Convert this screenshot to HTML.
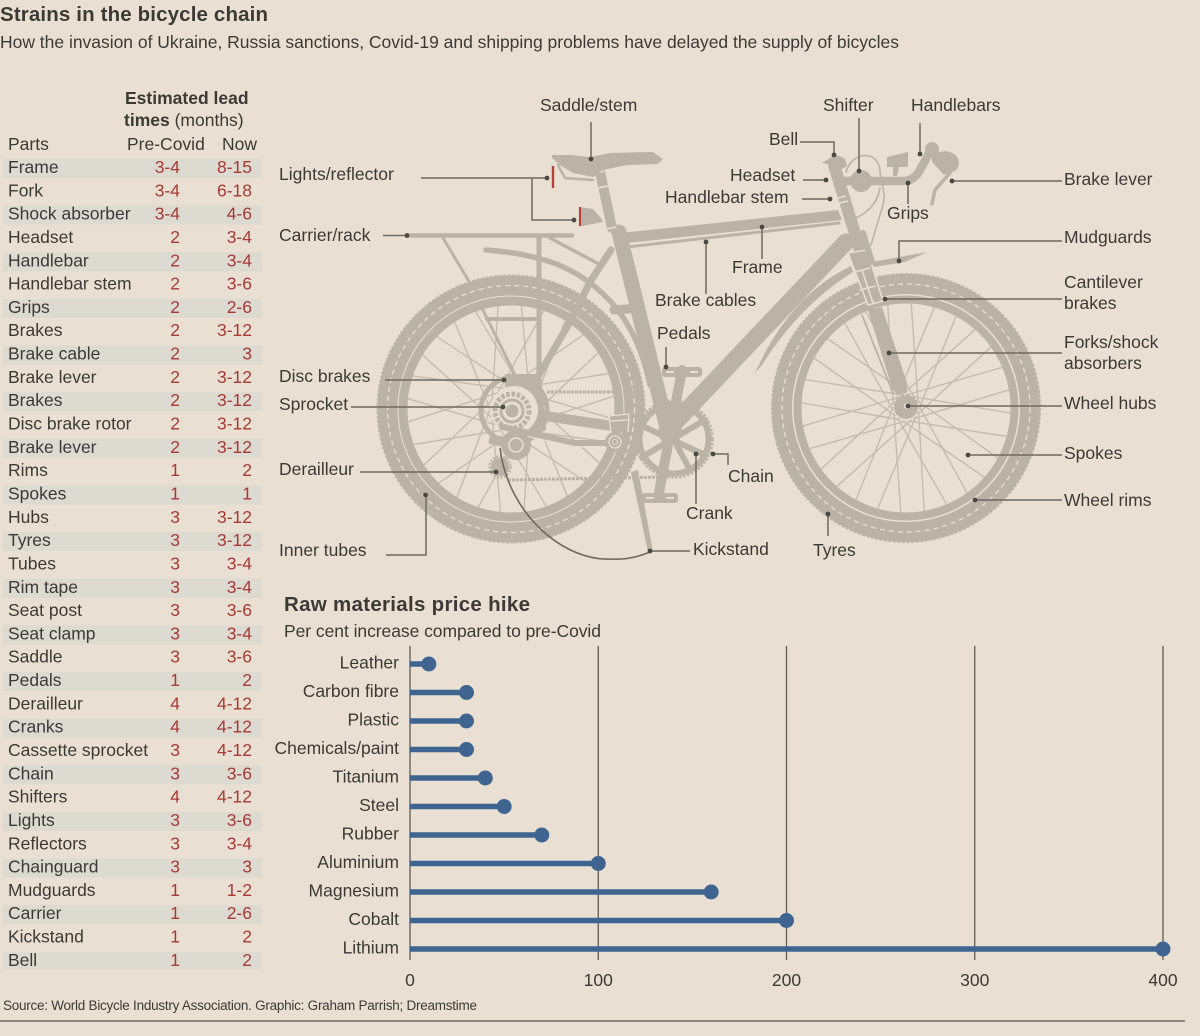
<!DOCTYPE html>
<html lang="en">
<head>
<meta charset="utf-8">
<title>Strains in the bicycle chain</title>
<style>
html,body{margin:0;padding:0;background:#e9e0d3;width:1200px;height:1036px;overflow:hidden}
svg{display:block}
text{font-family:"Liberation Sans",sans-serif;font-size:17.5px;fill:#3d3936}
.b{font-weight:700}
.v{fill:#a83a32;text-anchor:end}
.e{text-anchor:end}
.st{fill:#dddad1}
.bk{fill:#bbb3a7}
.ln{fill:none;stroke:#bbb3a7;stroke-linecap:round}
.cr{fill:none;stroke:#e9e0d3}
.ld{fill:none;stroke:#6f6960;stroke-width:1.5}
.dt{fill:#4c4843}
</style>
</head>
<body>
<svg id="page" xmlns="http://www.w3.org/2000/svg" width="1200" height="1036" viewBox="0 0 1200 1036">
<rect width="1200" height="1036" fill="#e9e0d3"/>
<text class="b" x="0" y="21" style="font-size:20.5px" textLength="268">Strains in the bicycle chain</text>
<text x="0" y="48" textLength="899">How the invasion of Ukraine, Russia sanctions, Covid-19 and shipping problems have delayed the supply of bicycles</text>

<g>
<text class="b" x="125" y="104">Estimated lead</text>
<text x="124" y="126"><tspan class="b">times</tspan> (months)</text>
<text x="8" y="150">Parts</text>
<text x="127" y="150">Pre-Covid</text>
<text x="222" y="150">Now</text>
<g>
<rect class="st" x="3" y="159" width="259" height="19"/><rect class="st" x="3" y="205.6" width="259" height="19"/><rect class="st" x="3" y="252.3" width="259" height="19"/><rect class="st" x="3" y="298.9" width="259" height="19"/><rect class="st" x="3" y="345.6" width="259" height="19"/><rect class="st" x="3" y="392.2" width="259" height="19"/><rect class="st" x="3" y="438.8" width="259" height="19"/><rect class="st" x="3" y="485.5" width="259" height="19"/><rect class="st" x="3" y="532.1" width="259" height="19"/><rect class="st" x="3" y="578.8" width="259" height="19"/><rect class="st" x="3" y="625.4" width="259" height="19"/><rect class="st" x="3" y="672" width="259" height="19"/><rect class="st" x="3" y="718.7" width="259" height="19"/><rect class="st" x="3" y="765.3" width="259" height="19"/><rect class="st" x="3" y="812" width="259" height="19"/><rect class="st" x="3" y="858.6" width="259" height="19"/><rect class="st" x="3" y="905.2" width="259" height="19"/><rect class="st" x="3" y="951.9" width="259" height="17"/>
</g>
<g><text x="8" y="173">Frame</text><text class="v" x="180" y="173">3-4</text><text class="v" x="252" y="173">8-15</text></g>
<g><text x="8" y="196.3">Fork</text><text class="v" x="180" y="196.3">3-4</text><text class="v" x="252" y="196.3">6-18</text></g>
<g><text x="8" y="219.6">Shock absorber</text><text class="v" x="180" y="219.6">3-4</text><text class="v" x="252" y="219.6">4-6</text></g>
<g><text x="8" y="243">Headset</text><text class="v" x="180" y="243">2</text><text class="v" x="252" y="243">3-4</text></g>
<g><text x="8" y="266.3">Handlebar</text><text class="v" x="180" y="266.3">2</text><text class="v" x="252" y="266.3">3-4</text></g>
<g><text x="8" y="289.6">Handlebar stem</text><text class="v" x="180" y="289.6">2</text><text class="v" x="252" y="289.6">3-6</text></g>
<g><text x="8" y="312.9">Grips</text><text class="v" x="180" y="312.9">2</text><text class="v" x="252" y="312.9">2-6</text></g>
<g><text x="8" y="336.2">Brakes</text><text class="v" x="180" y="336.2">2</text><text class="v" x="252" y="336.2">3-12</text></g>
<g><text x="8" y="359.6">Brake cable</text><text class="v" x="180" y="359.6">2</text><text class="v" x="252" y="359.6">3</text></g>
<g><text x="8" y="382.9">Brake lever</text><text class="v" x="180" y="382.9">2</text><text class="v" x="252" y="382.9">3-12</text></g>
<g><text x="8" y="406.2">Brakes</text><text class="v" x="180" y="406.2">2</text><text class="v" x="252" y="406.2">3-12</text></g>
<g><text x="8" y="429.5">Disc brake rotor</text><text class="v" x="180" y="429.5">2</text><text class="v" x="252" y="429.5">3-12</text></g>
<g><text x="8" y="452.8">Brake lever</text><text class="v" x="180" y="452.8">2</text><text class="v" x="252" y="452.8">3-12</text></g>
<g><text x="8" y="476.2">Rims</text><text class="v" x="180" y="476.2">1</text><text class="v" x="252" y="476.2">2</text></g>
<g><text x="8" y="499.5">Spokes</text><text class="v" x="180" y="499.5">1</text><text class="v" x="252" y="499.5">1</text></g>
<g><text x="8" y="522.8">Hubs</text><text class="v" x="180" y="522.8">3</text><text class="v" x="252" y="522.8">3-12</text></g>
<g><text x="8" y="546.1">Tyres</text><text class="v" x="180" y="546.1">3</text><text class="v" x="252" y="546.1">3-12</text></g>
<g><text x="8" y="569.4">Tubes</text><text class="v" x="180" y="569.4">3</text><text class="v" x="252" y="569.4">3-4</text></g>
<g><text x="8" y="592.8">Rim tape</text><text class="v" x="180" y="592.8">3</text><text class="v" x="252" y="592.8">3-4</text></g>
<g><text x="8" y="616.1">Seat post</text><text class="v" x="180" y="616.1">3</text><text class="v" x="252" y="616.1">3-6</text></g>
<g><text x="8" y="639.4">Seat clamp</text><text class="v" x="180" y="639.4">3</text><text class="v" x="252" y="639.4">3-4</text></g>
<g><text x="8" y="662.7">Saddle</text><text class="v" x="180" y="662.7">3</text><text class="v" x="252" y="662.7">3-6</text></g>
<g><text x="8" y="686">Pedals</text><text class="v" x="180" y="686">1</text><text class="v" x="252" y="686">2</text></g>
<g><text x="8" y="709.4">Derailleur</text><text class="v" x="180" y="709.4">4</text><text class="v" x="252" y="709.4">4-12</text></g>
<g><text x="8" y="732.7">Cranks</text><text class="v" x="180" y="732.7">4</text><text class="v" x="252" y="732.7">4-12</text></g>
<g><text x="8" y="756">Cassette sprocket</text><text class="v" x="180" y="756">3</text><text class="v" x="252" y="756">4-12</text></g>
<g><text x="8" y="779.3">Chain</text><text class="v" x="180" y="779.3">3</text><text class="v" x="252" y="779.3">3-6</text></g>
<g><text x="8" y="802.6">Shifters</text><text class="v" x="180" y="802.6">4</text><text class="v" x="252" y="802.6">4-12</text></g>
<g><text x="8" y="826">Lights</text><text class="v" x="180" y="826">3</text><text class="v" x="252" y="826">3-6</text></g>
<g><text x="8" y="849.3">Reflectors</text><text class="v" x="180" y="849.3">3</text><text class="v" x="252" y="849.3">3-4</text></g>
<g><text x="8" y="872.6">Chainguard</text><text class="v" x="180" y="872.6">3</text><text class="v" x="252" y="872.6">3</text></g>
<g><text x="8" y="895.9">Mudguards</text><text class="v" x="180" y="895.9">1</text><text class="v" x="252" y="895.9">1-2</text></g>
<g><text x="8" y="919.2">Carrier</text><text class="v" x="180" y="919.2">1</text><text class="v" x="252" y="919.2">2-6</text></g>
<g><text x="8" y="942.6">Kickstand</text><text class="v" x="180" y="942.6">1</text><text class="v" x="252" y="942.6">2</text></g>
<g><text x="8" y="965.9">Bell</text><text class="v" x="180" y="965.9">1</text><text class="v" x="252" y="965.9">2</text></g>
</g>

<g>
<g id="rear-spokes" stroke="#c4bcb0" stroke-width="1.4"></g>
<g id="front-spokes" stroke="#c4bcb0" stroke-width="1.4"></g>

<g fill="none">
<circle cx="511" cy="409" r="123.500" stroke="#bbb3a7" stroke-width="20"/>
<circle cx="511" cy="409" r="133.500" stroke="#bbb3a7" stroke-width="2" stroke-dasharray="3 1.5"/>
<circle cx="511" cy="409" r="123.500" stroke="#e9e0d3" stroke-width="1.3" stroke-dasharray="5 4"/>
<circle cx="511" cy="409" r="108" stroke="#bbb3a7" stroke-width="9"/>
</g>
<g fill="none">
<circle cx="906" cy="408" r="124" stroke="#bbb3a7" stroke-width="20"/>
<circle cx="906" cy="408" r="134" stroke="#bbb3a7" stroke-width="2" stroke-dasharray="3 1.5"/>
<circle cx="906" cy="408" r="124" stroke="#e9e0d3" stroke-width="1.3" stroke-dasharray="5 4"/>
<circle cx="906" cy="408" r="108.500" stroke="#bbb3a7" stroke-width="8"/>
<circle cx="906" cy="407" r="12" fill="#bbb3a7"/>
<circle cx="907" cy="406" r="3" fill="#e9e0d3"/>
</g>

<g>
<path class="ln" stroke-width="4.5" d="M407 235.5H572"/>
<path class="ln" stroke-width="3" d="M443 238L470 283M483 310L515 375"/>
<path class="ln" stroke-width="5" stroke-linecap="butt" d="M539 238V408"/>
<path class="ln" stroke-width="3.5" d="M550 238L597 263"/>
<path class="ln" stroke-width="4" d="M487 319H537"/>
</g>
<g>
<path class="ln" stroke-width="5.5" d="M486 250Q515 252 537 258Q580 268 612 303Q640 335 650 385"/>
<path class="ln" stroke-width="9" d="M614 310L640 308"/>
</g>
<g>
<path class="bk" d="M621 233L838 210L842 220L627 243Z"/>
<path class="ln" stroke-width="3" stroke-linecap="butt" d="M627 247L839 223"/>
<path class="ln" stroke-width="15" stroke-linecap="butt" d="M619 232L668 432"/>
<path class="ln" stroke-width="17" stroke-linecap="butt" d="M846 242L668 430"/>
<path class="ln" stroke-width="12" stroke-linecap="butt" d="M834 165L860 250"/>
<path class="ln" stroke-width="7" stroke-linecap="butt" d="M611 250L590 282L570 322L533 385"/>
<path class="ln" stroke-width="10" stroke-linecap="butt" d="M545 416L612 426"/>
<path class="cr" stroke-width="1.5" d="M833 199L846 196M835 204L848 201"/>
</g>
<g>
<path class="ln" stroke-width="10" stroke-linecap="butt" d="M600 172L612 228"/>
<path class="cr" stroke-width="1.6" d="M596 173L604 171M598 188L608 186M606 229L616 227"/>
</g>
<g>
<path class="bk" d="M552 155L570 155L590 157L610 153L653 152L663 159L658 164L627 165L603 170L593 177L573 173L560 165L552 158Z"/>
<path class="ln" stroke-width="2.5" d="M558 165L565 178L593 180"/>
</g>
<g>
<path class="bk" d="M579 207L593 209L601 218L603 222L582 226L579 226Z"/>
<path d="M580 207V226" stroke="#b5423a" stroke-width="2.2" fill="none"/>
</g>
<path d="M553 166V188" stroke="#b5423a" stroke-width="2.4" fill="none"/>

<g>
<path class="bk" d="M755 373Q790 295 851 266L853 272Q800 305 762 365Z"/>
<path class="bk" d="M872 262L927 252L905 262L874 267Z"/>
</g>
<g>
<path class="bk" d="M868 310L882 307L907 383L907 392L897 395L892 388Z"/>
<path class="ln" stroke-width="1.8" d="M862 315L893 393"/>
<path class="bk" d="M848 253L867 250L883 301L868 305Z"/>
<path class="cr" stroke-width="1.6" d="M848 253L867 250L883 301L868 305ZM854 272L870 268M859 290L876 286M862 270L873 303"/>
<path class="ln" stroke-width="6" stroke-linecap="butt" d="M863 233L872 262"/>
</g>
<g>
<path class="ln" stroke-width="8.5" d="M842 181H903Q915 181 921 168L931 150"/>
<circle cx="861" cy="181" r="11" class="bk"/>
<circle cx="932" cy="149" r="7" class="bk"/>
<path class="bk" d="M932 153L946 151Q958 153 959 163Q958 172 950 172L944 175L932 162Z"/>
<path class="ln" stroke-width="3.5" d="M950 173L935 190L932 204"/>
<path class="bk" d="M887 157L908 152V167H899L897 176H893L893 167H887Z"/>
<path class="bk" d="M822 163L830 158Q838 153 845 159L847 166L840 170L843 181L835 182L832 165Z"/>
<path class="ln" stroke-width="1.6" d="M846 172C852 150 880 150 880 172C882 185 886 195 883 205L871 245"/>
<path class="ln" stroke-width="1.6" d="M848 221Q876 212 880 188"/>
</g>

<g>
<circle cx="514" cy="410" r="33" fill="none" stroke="#bbb3a7" stroke-width="5"/>
<path class="bk" d="M505 374L541 374L546 430L538 434L520 430L505 395Z"/>
<circle cx="514" cy="410" r="24" fill="#e9e0d3"/>
</g>
<g fill="none">
<circle cx="512" cy="411" r="17" stroke="#bbb3a7" stroke-width="5" stroke-dasharray="3.5 1.8"/>
<circle cx="512" cy="411" r="11" stroke="#bbb3a7" stroke-width="3"/>
<circle cx="512" cy="411" r="6.5" fill="#bbb3a7"/>
</g>
<g>
<path class="ln" stroke-width="6" d="M502 427L575 443L610 443"/>
<path class="cr" stroke-width="1.3" d="M503 431L575 447L605 447"/>
<rect class="bk" x="489" y="436" width="23" height="10" rx="2" transform="rotate(12 500 441)"/>
<circle cx="516" cy="445" r="15" class="bk"/>
<circle cx="516" cy="445" r="7" fill="none" stroke="#e9e0d3" stroke-width="1.5"/>
<circle cx="500" cy="467" r="9" class="bk"/>
<circle cx="500" cy="467" r="10.5" fill="none" stroke="#bbb3a7" stroke-width="2.5" stroke-dasharray="2 1.5"/>
<circle cx="615" cy="442" r="10" class="bk"/>
<circle cx="615" cy="442" r="6" fill="none" stroke="#e9e0d3" stroke-width="1.3"/>
<circle cx="615" cy="442" r="2.5" fill="none" stroke="#e9e0d3" stroke-width="1"/>
<path class="bk" d="M610 415L628 414L627 432L611 433Z"/>
<path class="cr" stroke-width="1.3" d="M609 416L629 414M610 421L628 420M611 433L609 416M628 432L629 414"/>
</g>
<g fill="none">
<path stroke="#bbb3a7" stroke-width="3" stroke-dasharray="3 1" d="M508 480L664 477"/>
<path stroke="#bbb3a7" stroke-width="3" stroke-dasharray="3 1" d="M547 392L640 392"/>
</g>
<g>
<circle cx="674" cy="439" r="34.500" fill="none" stroke="#bbb3a7" stroke-width="6"/>
<circle cx="674" cy="439" r="38" fill="none" stroke="#bbb3a7" stroke-width="3.5" stroke-dasharray="2.5 1.5"/>
<path class="ln" stroke-width="6" stroke-linecap="butt" d="M640 425L705 455M705 420L642 457M657 408L690 470"/>
<circle cx="670" cy="432" r="12" class="bk"/>
<path class="ln" stroke-width="10" d="M682 370L658 498"/>
<rect class="bk" x="662" y="367" width="40" height="10" rx="3"/>
<rect class="bk" x="642" y="493" width="36" height="10" rx="3"/>
<path class="cr" stroke-width="2" d="M666 372H674M690 372H698M646 498H654M666 498H674"/>
</g>
<path class="bk" d="M631 472L638 470L653 552L648 552Z"/>
<path fill="none" stroke="#6f6960" stroke-width="1.6" d="M500 448C508 515 565 562 612 559C628 560 640 556 650 552"/>
</g>

<g>
<path class="ld" d="M591 122V159"/><circle class="dt" cx="591" cy="159" r="2.4"/>
<path class="ld" d="M421 178H547M532 178V220H574"/><circle class="dt" cx="547" cy="178" r="2.4"/><circle class="dt" cx="574" cy="220" r="2.4"/>
<path class="ld" d="M383 235.5H407"/><circle class="dt" cx="407" cy="235.5" r="2.4"/>
<path class="ld" d="M706 242V294"/><circle class="dt" cx="706" cy="242" r="2.4"/>
<path class="ld" d="M762 227V259"/><circle class="dt" cx="762" cy="227" r="2.4"/>
<path class="ld" d="M666 347V367"/><circle class="dt" cx="666" cy="367" r="2.4"/>
<path class="ld" d="M385 380H504"/><circle class="dt" cx="504" cy="380" r="2.4"/>
<path class="ld" d="M351 407H503"/><circle class="dt" cx="503" cy="407" r="2.4"/>
<path class="ld" d="M360 472H496"/><circle class="dt" cx="496" cy="472" r="2.4"/>
<path class="ld" d="M386 555H426V495"/><circle class="dt" cx="425.5" cy="495" r="2.4"/>
<path class="ld" d="M696 454V504"/><circle class="dt" cx="696" cy="454" r="2.4"/>
<path class="ld" d="M713 454H728V465"/><circle class="dt" cx="713" cy="454" r="2.4"/>
<path class="ld" d="M650 551H690"/><circle class="dt" cx="650" cy="551" r="2.4"/>
<path class="ld" d="M828 514V536"/><circle class="dt" cx="828" cy="514" r="2.4"/>
<path class="ld" d="M975 500H1062"/><circle class="dt" cx="975" cy="500" r="2.4"/>
<path class="ld" d="M968 455H1062"/><circle class="dt" cx="968" cy="455" r="2.4"/>
<path class="ld" d="M908 406H1062"/><circle class="dt" cx="908" cy="406" r="2.4"/>
<path class="ld" d="M889 353H1062"/><circle class="dt" cx="889" cy="353" r="2.4"/>
<path class="ld" d="M885 299H1062"/><circle class="dt" cx="885" cy="299" r="2.4"/>
<path class="ld" d="M899 261V241H1062"/><circle class="dt" cx="899" cy="261" r="2.4"/>
<path class="ld" d="M952 181H1062"/><circle class="dt" cx="952" cy="181" r="2.4"/>
<path class="ld" d="M908 183V204"/><circle class="dt" cx="908" cy="183" r="2.4"/>
<path class="ld" d="M920 123V154"/><circle class="dt" cx="920" cy="154" r="2.4"/>
<path class="ld" d="M859 118V171"/><circle class="dt" cx="859" cy="171" r="2.4"/>
<path class="ld" d="M800 142H834V155"/><circle class="dt" cx="834" cy="155" r="2.4"/>
<path class="ld" d="M803 180H826"/><circle class="dt" cx="826" cy="180" r="2.4"/>
<path class="ld" d="M802 199H830"/><circle class="dt" cx="830" cy="199" r="2.4"/>
</g>

<g>
<text x="540" y="111">Saddle/stem</text>
<text x="823" y="111">Shifter</text>
<text x="911" y="111">Handlebars</text>
<text x="769" y="145">Bell</text>
<text x="730" y="181">Headset</text>
<text x="665" y="203">Handlebar stem</text>
<text x="887" y="219">Grips</text>
<text x="279" y="180">Lights/reflector</text>
<text x="279" y="241">Carrier/rack</text>
<text x="732" y="273">Frame</text>
<text x="655" y="306">Brake cables</text>
<text x="657" y="339">Pedals</text>
<text x="279" y="382">Disc brakes</text>
<text x="279" y="410">Sprocket</text>
<text x="279" y="475">Derailleur</text>
<text x="279" y="556">Inner tubes</text>
<text x="728" y="482">Chain</text>
<text x="686" y="519">Crank</text>
<text x="693" y="555">Kickstand</text>
<text x="813" y="556">Tyres</text>
<text x="1064" y="185">Brake lever</text>
<text x="1064" y="243">Mudguards</text>
<text x="1064" y="288">Cantilever<tspan x="1064" dy="21">brakes</tspan></text>
<text x="1064" y="348">Forks/shock<tspan x="1064" dy="21">absorbers</tspan></text>
<text x="1064" y="409">Wheel hubs</text>
<text x="1064" y="459">Spokes</text>
<text x="1064" y="506">Wheel rims</text>
</g>

<g>
<text class="b" x="284" y="611" style="font-size:20.5px" textLength="246">Raw materials price hike</text>
<text x="284" y="637" textLength="317">Per cent increase compared to pre-Covid</text>
<g id="grid"></g>
<g id="ticks"></g>
<g id="cats"></g>
<g id="marks"></g>
</g>

<text x="3" y="1010" style="font-size:13.5px" textLength="474">Source: World Bicycle Industry Association. Graphic: Graham Parrish; Dreamstime</text>
<line x1="0" x2="1185" y1="1021" y2="1021" stroke="#5a5550" stroke-width="1.2"/>
</svg>

<script>
const materials = ["Leather","Carbon fibre","Plastic","Chemicals/paint","Titanium","Steel","Rubber","Aluminium","Magnesium","Cobalt","Lithium"];
const priceHike = [10,30,30,30,40,50,70,100,160,200,400];
const tickValues = [0,100,200,300,400];
const tickLabels = ["0","100","200","300","400"];

const NS = "http://www.w3.org/2000/svg";
function xScale(v){ return 410 + v * 1.8825; }
function yScale(i){ return 663.5 + i * 28.5; }
function mk(tag, attrs, parent){
  const el = document.createElementNS(NS, tag);
  for (const k in attrs) el.setAttribute(k, attrs[k]);
  parent.appendChild(el);
  return el;
}
const gridG = document.getElementById("grid");
const ticksG = document.getElementById("ticks");
const catsG = document.getElementById("cats");
const marksG = document.getElementById("marks");

tickValues.forEach(function(v, i){
  const gl = mk("line", {x1:xScale(v), x2:xScale(v), y1:646, y2:960, stroke:"#5f5a55", "stroke-width":1.3}, gridG);
  
  
  const t = mk("text", {x:xScale(v), y:986, "text-anchor":"middle"}, ticksG);
  t.textContent = tickLabels[i];
  
  
});
materials.forEach(function(name, i){
  const y = yScale(i);
  const lab = mk("text", {x:399, y:y + 5, "text-anchor":"end"}, catsG);
  lab.textContent = name;
  
  
  const stem = mk("line", {x1:xScale(0), x2:xScale(priceHike[i]), y1:y + 0.5, y2:y + 0.5, stroke:"#3f6490", "stroke-width":5.5}, marksG);
  
  
  const dot = mk("circle", {cx:xScale(priceHike[i]), cy:y + 0.5, r:7.5, fill:"#3f6490"}, marksG);
  
  
});

function drawSpokes(id, cx, cy, count, rimR, hubR, start){
  const g = document.getElementById(id);
  for (let i = 0; i < count; i++){
    const a = start + i * 2 * Math.PI / count;
    const h = a + (i % 2 ? 1.15 : -1.15);
    const s = mk("line", {
      x1:(cx + rimR * Math.cos(a)).toFixed(1), y1:(cy + rimR * Math.sin(a)).toFixed(1),
      x2:(cx + hubR * Math.cos(h)).toFixed(1), y2:(cy + hubR * Math.sin(h)).toFixed(1)
    }, g);
    
    
  }
}
drawSpokes("rear-spokes", 511, 409, 28, 104, 20, 0.1);
drawSpokes("front-spokes", 906, 408, 28, 105, 13, 0.05);
</script>
</body>
</html>
